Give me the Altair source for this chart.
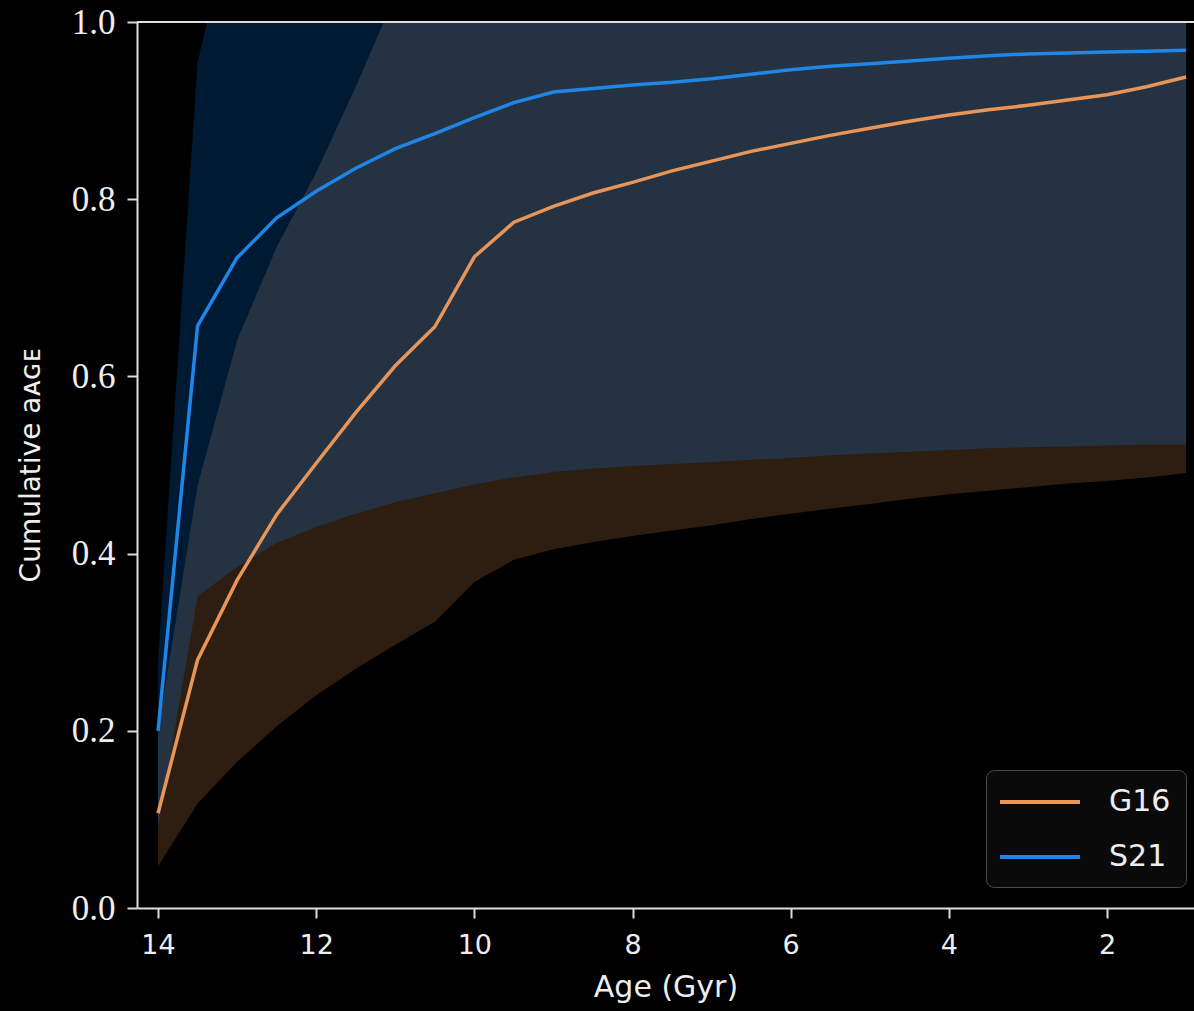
import altair as alt
import pandas as pd

# Ages (Gyr)
ages = [14, 13.5, 13, 12.5, 12, 11.5, 11, 10.5, 10, 9.5, 9, 8.5, 8, 7.5, 7,
        6.5, 6, 5.5, 5, 4.5, 4, 3.5, 3, 2.5, 2, 1.5, 1]

# G16 median and band
g16_mid = [0.107, 0.280, 0.370, 0.444, 0.502, 0.559, 0.612, 0.656, 0.735, 0.774,
           0.792, 0.807, 0.819, 0.832, 0.843, 0.854, 0.863, 0.872, 0.880, 0.888,
           0.895, 0.901, 0.906, 0.912, 0.918, 0.927, 0.938]
g16_lo = [0.047, 0.118, 0.165, 0.205, 0.240, 0.270, 0.297, 0.323, 0.368, 0.393,
          0.405, 0.413, 0.420, 0.426, 0.432, 0.439, 0.445, 0.451, 0.456, 0.462,
          0.467, 0.471, 0.475, 0.479, 0.482, 0.486, 0.491]
g16_hi = [0.200, 0.477, 0.641, 0.746, 0.830, 0.927, 1.03, 1.1, 1.1, 1.1,
          1.1, 1.1, 1.1, 1.1, 1.1, 1.1, 1.1, 1.1, 1.1, 1.1,
          1.1, 1.1, 1.1, 1.1, 1.1, 1.1, 1.1]

# S21 median and band
s21_mid = [0.200, 0.657, 0.734, 0.779, 0.809, 0.835, 0.857, 0.874, 0.892, 0.909,
           0.921, 0.925, 0.929, 0.932, 0.936, 0.941, 0.946, 0.950, 0.953, 0.956,
           0.959, 0.962, 0.964, 0.965, 0.966, 0.967, 0.968]
s21_lo = [0.090, 0.352, 0.385, 0.412, 0.430, 0.445, 0.458, 0.468, 0.478, 0.486,
          0.492, 0.496, 0.499, 0.501, 0.503, 0.506, 0.508, 0.511, 0.513, 0.515,
          0.517, 0.519, 0.520, 0.521, 0.522, 0.523, 0.523]
s21_hi = [0.280, 0.955, 1.14, 1.2, 1.2, 1.2, 1.2, 1.2, 1.2, 1.2,
          1.2, 1.2, 1.2, 1.2, 1.2, 1.2, 1.2, 1.2, 1.2, 1.2,
          1.2, 1.2, 1.2, 1.2, 1.2, 1.2, 1.2]

series_names = ["G16", "S21"]
line_colors = ["#e8955a", "#1f86e8"]
band_colors = ["#e8955a", "#0080ff"]

rows = []
for name, mid, lo, hi in [("G16", g16_mid, g16_lo, g16_hi), ("S21", s21_mid, s21_lo, s21_hi)]:
    for a, m, l, h in zip(ages, mid, lo, hi):
        rows.append({"age": a, "series": name, "mid": m, "lo": l, "hi": h})
df = pd.DataFrame(rows)

xscale = alt.Scale(domain=[0.90, 14.266], reverse=True, nice=False, zero=False)
yscale = alt.Scale(domain=[0, 1], nice=False, zero=False)

xaxis = alt.Axis(values=[2, 4, 6, 8, 10, 12, 14], format="d", title="Age (Gyr)",
                 labelFont="DejaVu Sans", labelFontSize=27, labelPadding=14,
                 titleFont="DejaVu Sans", titleFontSize=30, titleFontWeight="normal",
                 titlePadding=14, grid=False)
yaxis = alt.Axis(values=[0, 0.2, 0.4, 0.6, 0.8, 1.0], format=".1f",
                 title="Cumulative aᴀɢᴇ",
                 labelFont="Liberation Serif", labelFontSize=35, labelPadding=12,
                 titleFont="DejaVu Sans", titleFontSize=28, titleFontWeight="normal",
                 titlePadding=26, grid=False)

base = alt.Chart(df)

band_g16 = base.transform_filter(alt.datum.series == "G16").mark_area(
    clip=True, opacity=0.2, color=band_colors[0]
).encode(
    x=alt.X("age:Q", scale=xscale, axis=xaxis),
    y=alt.Y("lo:Q", scale=yscale, axis=yaxis),
    y2="hi:Q",
)
band_s21 = base.transform_filter(alt.datum.series == "S21").mark_area(
    clip=True, opacity=0.2, color=band_colors[1]
).encode(
    x=alt.X("age:Q", scale=xscale),
    y=alt.Y("lo:Q", scale=yscale),
    y2="hi:Q",
)
lines = base.mark_line(clip=True, strokeWidth=3.5).encode(
    x=alt.X("age:Q", scale=xscale),
    y=alt.Y("mid:Q", scale=yscale),
    color=alt.Color("series:N",
                    scale=alt.Scale(domain=series_names, range=line_colors),
                    legend=alt.Legend(title=None, orient="none", legendX=849, legendY=748,
                                      symbolType="M-2.667,0H2.667", symbolSize=900,
                                      symbolStrokeWidth=4, symbolOffset=22,
                                      labelFont="DejaVu Sans",
                                      labelFontSize=30, labelColor="#eeeeee",
                                      labelOffset=52, rowPadding=23, padding=15,
                                      strokeColor="#4a4a4a", fillColor="#0a0a0a",
                                      cornerRadius=8)),
)
top = alt.Chart(pd.DataFrame({"y": [1.0]})).mark_rule(color="#dddddd", strokeWidth=2).encode(
    y=alt.Y("y:Q", scale=yscale)
)

chart = alt.layer(band_g16, band_s21, lines, top).properties(
    width=1057, height=886, background="black",
    padding={"left": 137, "top": 22, "right": 0, "bottom": 103},
    autosize=alt.AutoSizeParams(type="none"),
).configure_view(stroke=None).configure_axis(
    domainColor="#dddddd", domainWidth=2, tickColor="#dddddd", tickWidth=2, tickSize=10,
    labelColor="#eeeeee", titleColor="#eeeeee"
)

chart.save("out.html", embed_options={"renderer": "svg", "actions": False})
